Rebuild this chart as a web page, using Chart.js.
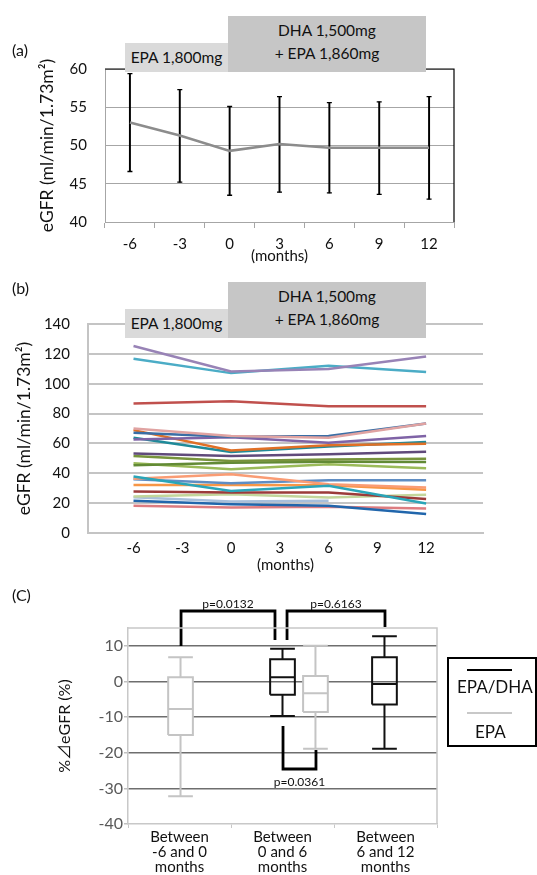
<!DOCTYPE html>
<html>
<head>
<meta charset="utf-8">
<script src="https://cdn.jsdelivr.net/npm/chart.js@4.4.1/dist/chart.umd.min.js"></script>
<style>
body { margin:0; background:#fff; font-family: Lato, sans-serif; color:#111; }
#wrap { position:relative; width:537px; height:875px; overflow:hidden; }
canvas { position:absolute; left:0; }
.tag { position:absolute; left:12px; font-size:16px; line-height:20px; }
.dose { position:absolute; font-size:15.5px; line-height:23px; text-align:center; box-sizing:border-box; }
.epa { width:103px; height:29px; background:#dadada; padding-top:3px; }
.dha { width:198px; height:56px; background:#c6c6c6; padding-top:3px; }
#legC { position:absolute; left:447px; top:657px; width:90px; height:90px; border:2px solid #000; box-sizing:border-box; }
#legC div { position:absolute; }
</style>
</head>
<body>
<div id="wrap">
  <canvas id="chartA" width="537" height="270" style="top:0"></canvas>
  <canvas id="chartB" width="537" height="305" style="top:270px"></canvas>
  <canvas id="chartC" width="537" height="300" style="top:575px"></canvas>

  <div class="tag" style="top:40px">(a)</div>
  <div class="dose epa" style="left:125px;top:43px">EPA 1,800mg</div>
  <div class="dose dha" style="left:228px;top:16px">DHA 1,500mg<br>+ EPA 1,860mg</div>

  <div class="tag" style="top:278px">(b)</div>
  <div class="dose epa" style="left:125px;top:309px">EPA 1,800mg</div>
  <div class="dose dha" style="left:228px;top:282px">DHA 1,500mg<br>+ EPA 1,860mg</div>

  <div class="tag" style="top:585px">(C)</div>
  <div id="legC">
    <div style="left:18px;top:10px;width:45px;border-top:2px solid #000"></div>
    <div style="left:8px;top:18px;font-size:17px;line-height:20px">EPA/DHA</div>
    <div style="left:18px;top:53px;width:45px;border-top:2px solid #c8c8c8"></div>
    <div style="left:26px;top:63px;font-size:17px;line-height:20px">EPA</div>
  </div>
</div>
<script>
Chart.defaults.font.family = "Lato, 'Noto Sans CJK JP', sans-serif";
Chart.defaults.color = '#111';
Chart.defaults.animation = false;
Chart.defaults.plugins.legend.display = false;
Chart.defaults.plugins.tooltip.enabled = false;

// (a) mean eGFR with error bars
var monthLabels = ['-6', '-3', '0', '3', '6', '9', '12'];
var meanA = [53.0, 51.3, 49.3, 50.2, 49.7, 49.7, 49.7];
var lowA = [46.6, 45.2, 43.5, 43.9, 43.8, 43.6, 43.0];
var highA = [59.4, 57.3, 55.1, 56.4, 55.6, 55.7, 56.4];

// (b) individual patients, measured at -6, 0, 6, 12 months
var monthsB = [-6, 0, 6, 12];
var tickMonths = [-6, -3, 0, 3, 6, 9, 12];
var patientsB = [
  [125.3, 108.2, 109.8, 118.2],
  [116.7, 107.1, 112.0, 107.8],
  [86.7, 88.2, 84.9, 84.9],
  [70.0, 64.9, 63.8, 73.3],
  [67.1, 64.5, 64.9, 73.3],
  [62.7, 64.2, 60.4, 64.9],
  [68.9, 55.3, 58.7, 59.8],
  [63.8, 54.2, 58.0, 60.9],
  [53.3, 51.6, 52.7, 54.4],
  [51.6, 48.2, 49.3, 49.8],
  [45.3, 47.1, 47.8, 47.6],
  [46.7, 42.7, 46.0, 43.3],
  [37.8, 28.2, 31.6, 19.8],
  [36.4, 39.3, 32.7, 30.4],
  [36.0, 33.3, 35.3, 35.3],
  [32.2, 32.2, 32.0, 28.9],
  [27.8, 27.1, 27.1, 22.7],
  [24.4, 26.0, 23.8, 25.6],
  [24.0, 21.1, 21.6, null],
  [21.6, 19.3, 18.2, 12.7],
  [18.2, 17.1, 17.6, 16.4]
];
var colorsB = ['#9883b6', '#4bacc6', '#c0504d', '#e0a3a2', '#3a6ea5', '#7f63a6', '#e07026',
  '#1f8a99', '#604a7b', '#77933c', '#628a35', '#9bbb59', '#2aa5b8', '#fa9c74', '#5f8dc3',
  '#f79646', '#9b3b3a', '#c3d69b', '#a7bfdc', '#2166ac', '#dd7c80'];

// (C) % change of eGFR, box plots
var catLabels = [['Between', '-6 and 0', 'months'], ['Between', '0 and 6', 'months'], ['Between', '6 and 12', 'months']];
var epaPos = [1.01, 2.32];
var epaMin = [-32.2, -18.9];
var epaQ1 = [-15.0, -8.6];
var epaMed = [-7.7, -3.3];
var epaQ3 = [1.2, 1.5];
var epaMax = [6.8, 10.0];
var dhaPos = [2.0, 2.99];
var dhaMin = [-9.7, -18.9];
var dhaQ1 = [-3.7, -6.5];
var dhaMed = [1.2, -0.7];
var dhaQ3 = [6.2, 6.8];
var dhaMax = [9.2, 12.7];
var pLabels = ['p=0.0132', 'p=0.6163', 'p=0.0361'];
var brX1 = [1.015, 2.044, 2.005];
var brX2 = [1.927, 2.995, 2.325];
var brY1 = [9.95, 11.63, -12.5];
var brY2 = [11.63, 15.28, -19.23];
var brLevel = [19.77, 19.77, -24.57];
var pLabelY = [21.7, 21.7, -28.2];

// top/right frame lines of a plot area
function framePlugin(color, width) {
  return {
    id: 'frame',
    afterDraw: function(c) {
      var a = c.chartArea, ctx = c.ctx;
      ctx.save();
      ctx.strokeStyle = color;
      ctx.lineWidth = width;
      ctx.beginPath();
      ctx.moveTo(a.left, a.top);
      ctx.lineTo(a.right, a.top);
      ctx.lineTo(a.right, a.bottom);
      ctx.stroke();
      ctx.restore();
    }
  };
}

new Chart(document.getElementById('chartA'), {
  type: 'bar',
  data: {
    labels: monthLabels,
    datasets: [
      { type: 'line', data: meanA, borderColor: '#8c8c8c', borderWidth: 2.5, pointRadius: 0 },
      { type: 'line', data: highA, showLine: false, pointStyle: 'line', pointRadius: 2.5,
        pointBorderColor: '#000', pointBorderWidth: 1.3 },
      { type: 'line', data: lowA, showLine: false, pointStyle: 'line', pointRadius: 2.5,
        pointBorderColor: '#000', pointBorderWidth: 1.3 },
      { type: 'bar', data: lowA.map(function(l, i) { return [l, highA[i]]; }),
        backgroundColor: '#000', barThickness: 1.3, borderWidth: 0 }
    ]
  },
  options: {
    responsive: false,
    layout: { padding: { top: 69, right: 83, left: 0, bottom: 0 } },
    scales: {
      x: {
        offset: true,
        grid: { offset: true, drawOnChartArea: false, color: '#a6a6a6', tickLength: 6 },
        border: { color: '#a6a6a6' },
        ticks: { font: { size: 15 }, padding: 7, maxRotation: 0 },
        title: { display: true, text: '(months)', font: { size: 15 }, padding: { top: 0, bottom: 5 } },
        afterFit: function(s) { s.height = 48; }
      },
      y: {
        min: 40, max: 60,
        ticks: { stepSize: 5, font: { size: 15 }, padding: 18 },
        grid: { color: '#a6a6a6', drawTicks: false },
        border: { color: '#a6a6a6' },
        title: { display: true, text: 'eGFR (ml/min/1.73m²)', font: { size: 17.5 }, padding: { top: 36.5, bottom: 0 } },
        afterFit: function(s) { s.width = 105; }
      }
    }
  },
  plugins: [framePlugin('#000', 1.2)]
});

new Chart(document.getElementById('chartB'), {
  type: 'line',
  data: {
    datasets: patientsB.map(function(v, i) {
      return {
        data: v.map(function(y, j) { return { x: monthsB[j], y: y }; }),
        borderColor: colorsB[i], borderWidth: 2.5, pointRadius: 0
      };
    })
  },
  options: {
    responsive: false,
    layout: { padding: { top: 54, right: 54, left: 0, bottom: 0 } },
    scales: {
      x: {
        type: 'linear', min: -8.8, max: 15.5,
        afterBuildTicks: function(s) { s.ticks = tickMonths.map(function(v) { return { value: v }; }); },
        grid: { display: false, drawTicks: false },
        border: { color: '#c4c4c4', width: 2 },
        ticks: { font: { size: 15 }, padding: 6, maxRotation: 0 },
        title: { display: true, text: '(months)', font: { size: 15 }, padding: { top: 0, bottom: 1 } },
        afterFit: function(s) { s.height = 42; }
      },
      y: {
        min: 0, max: 140,
        ticks: { stepSize: 20, font: { size: 15 }, padding: 18 },
        grid: { color: '#c4c4c4', lineWidth: 2, drawTicks: false },
        border: { color: '#c4c4c4', width: 2 },
        title: { display: true, text: 'eGFR (ml/min/1.73m²)', font: { size: 17.5 }, padding: { top: 13.5, bottom: 0 } },
        afterFit: function(s) { s.width = 88; }
      }
    }
  }
});

var boxHalf = 0.12;
function boxShape(x, lo, hi) {
  return [{ x: x - boxHalf, y: lo }, { x: x + boxHalf, y: lo }, { x: x + boxHalf, y: hi },
    { x: x - boxHalf, y: hi }, { x: x - boxHalf, y: lo }];
}
function boxLines(pos, mn, q1, med, q3, mx) {
  var pts = [];
  pos.forEach(function(x, i) {
    pts.push({ x: x - boxHalf, y: med[i] }, { x: x + boxHalf, y: med[i] }, { x: x, y: null });
    pts.push({ x: x, y: q3[i] }, { x: x, y: mx[i] }, { x: x, y: null });
    pts.push({ x: x - boxHalf, y: mx[i] }, { x: x + boxHalf, y: mx[i] }, { x: x, y: null });
    pts.push({ x: x, y: q1[i] }, { x: x, y: mn[i] }, { x: x, y: null });
    pts.push({ x: x - boxHalf, y: mn[i] }, { x: x + boxHalf, y: mn[i] }, { x: x, y: null });
  });
  return pts;
}
var dsC = [];
pLabels.forEach(function(p, i) {
  dsC.push({
    data: [{ x: brX1[i], y: brY1[i] }, { x: brX1[i], y: brLevel[i] }, { x: brX2[i], y: brLevel[i] }, { x: brX2[i], y: brY2[i] }],
    borderColor: '#000', borderWidth: 2.8, pointRadius: 0, clip: false
  });
});
dsC.push({ data: boxLines(dhaPos, dhaMin, dhaQ1, dhaMed, dhaQ3, dhaMax), borderColor: '#111', borderWidth: 2, pointRadius: 0 });
dsC.push({ data: boxLines(epaPos, epaMin, epaQ1, epaMed, epaQ3, epaMax), borderColor: '#c4c4c4', borderWidth: 2, pointRadius: 0 });
dhaPos.forEach(function(x, i) {
  dsC.push({ data: boxShape(x, dhaQ1[i], dhaQ3[i]), borderColor: '#111', borderWidth: 2, pointRadius: 0 });
});
epaPos.forEach(function(x, i) {
  dsC.push({ data: boxShape(x, epaQ1[i], epaQ3[i]), borderColor: '#c4c4c4', borderWidth: 2, pointRadius: 0,
    fill: 'shape', backgroundColor: '#fff' });
});

var pLabelPlugin = {
  id: 'pLabels',
  afterDatasetsDraw: function(c) {
    var ctx = c.ctx, sx = c.scales.x, sy = c.scales.y;
    ctx.save();
    ctx.font = "12px Lato, sans-serif";
    ctx.fillStyle = '#111';
    ctx.textAlign = 'center';
    ctx.textBaseline = 'middle';
    pLabels.forEach(function(p, i) {
      ctx.fillText(p, sx.getPixelForValue((brX1[i] + brX2[i]) / 2), sy.getPixelForValue(pLabelY[i]));
    });
    ctx.restore();
  }
};

new Chart(document.getElementById('chartC'), {
  type: 'line',
  data: { datasets: dsC },
  options: {
    responsive: false,
    layout: { padding: { top: 53, right: 100, left: 0, bottom: 0 } },
    scales: {
      x: { type: 'linear', min: 0.5, max: 3.5, display: false },
      xc: {
        type: 'category', labels: catLabels, position: 'bottom', offset: true,
        grid: { offset: true, drawOnChartArea: false, tickLength: 4, color: '#c8c8c8' },
        border: { color: '#c8c8c8', width: 1.5 },
        ticks: { font: { size: 15, lineHeight: 1.03 }, padding: 1, maxRotation: 0, autoSkip: false },
        afterFit: function(s) { s.height = 51; }
      },
      y: {
        min: -40, max: 15,
        ticks: { stepSize: 5, font: { size: 16 }, color: '#595959', padding: 1,
          callback: function(v) { return v % 10 === 0 ? v : ''; } },
        grid: {
          lineWidth: 1.5, tickLength: 4, tickColor: '#c0c0c0',
          color: function(ctx) {
            var v = ctx.tick ? ctx.tick.value : 0;
            return (v % 10 === 0 && v > -40) ? '#6e6e6e' : 'rgba(0,0,0,0)';
          }
        },
        border: { color: '#c8c8c8', width: 1.5 },
        title: { display: true, text: '%⊿eGFR (%)', font: { size: 16 }, padding: { top: 55.4, bottom: 0 } },
        afterFit: function(s) { s.width = 128; }
      }
    }
  },
  plugins: [framePlugin('#c8c8c8', 1.5), pLabelPlugin]
});
</script>
</body>
</html>
